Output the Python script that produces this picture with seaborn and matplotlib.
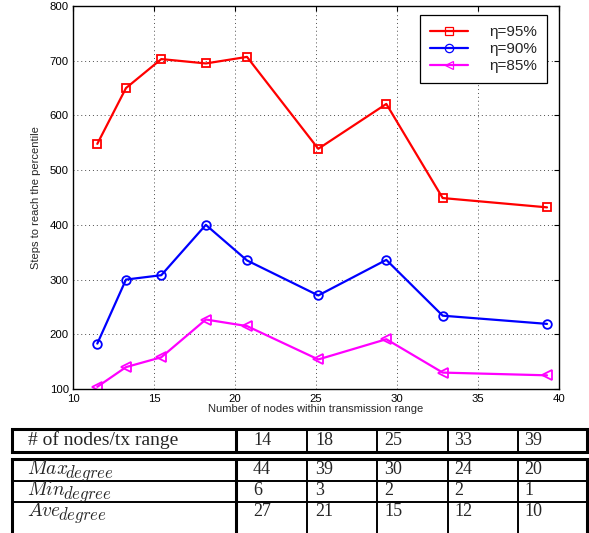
import matplotlib
matplotlib.use("Agg")
import matplotlib.pyplot as plt
import seaborn as sns
import pandas as pd

# Average number of nodes within transmission range (x positions)
nodes_in_range = [11.5, 13.27, 15.45, 18.2, 20.74, 25.14, 29.34, 32.82, 39.26]

# Steps needed to reach each percentile
steps_95 = [548, 650, 703, 695, 707, 539, 621, 449, 432]
steps_90 = [183, 300, 308, 400, 335, 271, 336, 234, 219]
steps_85 = [104, 140, 158, 227, 215, 154, 191, 130, 125]

series_labels = ["η=95%", "η=90%", "η=85%"]
series_colors = ["#ff0000", "#0000ff", "#ff00ff"]
series_markers = ["s", "o", "<"]
series_msizes = [5.2, 6.2, 7.2]

# Degree statistics table
table_header = "# of nodes/tx range"
table_nodes = [14, 18, 25, 33, 39]
row_names = ["Max", "Min", "Ave"]
row_subscript = "degree"
max_degree = [44, 39, 30, 24, 20]
min_degree = [6, 3, 2, 2, 1]
ave_degree = [27, 21, 15, 12, 10]

sns.set_style("white")
plt.rcParams["font.family"] = ["Liberation Sans", "DejaVu Sans"]
plt.rcParams["mathtext.fontset"] = "cm"

W, H = 589, 533
fig = plt.figure(figsize=(W / 100, H / 100), dpi=100)
ax = fig.add_axes([73 / W, 1 - 389 / H, 486 / W, 383 / H])

df = pd.DataFrame({
    "nodes": nodes_in_range * 3,
    "steps": steps_95 + steps_90 + steps_85,
    "eta": [series_labels[0]] * 9 + [series_labels[1]] * 9 + [series_labels[2]] * 9,
})

for lab, col, mk, ms in zip(series_labels, series_colors, series_markers, series_msizes):
    sub = df[df["eta"] == lab]
    sns.lineplot(data=sub, x="nodes", y="steps", ax=ax, color=col, marker=mk,
                 markersize=ms, markerfacecolor="none", markeredgecolor=col,
                 markeredgewidth=1.3, linewidth=1.6, label=lab, sort=False)

ax.set_xlim(10, 40)
ax.set_ylim(100, 800)
ax.set_xticks(range(10, 41, 5))
ax.set_yticks(range(100, 801, 100))
ax.grid(True, linestyle=(0, (1, 3)), color="0.3", linewidth=0.7)
ax.tick_params(direction="in", top=True, right=True, length=3.5, width=0.8,
               labelsize=8.2, colors="black")
ax.tick_params(axis="y", pad=3)
ax.tick_params(axis="x", pad=3.5)
for s in ax.spines.values():
    s.set_color("black")
    s.set_linewidth(1.0)
ax.set_xlabel("Number of nodes within transmission range", fontsize=8, labelpad=0)
ax.set_ylabel("Steps to reach the percentile", fontsize=8, labelpad=6)

leg = ax.legend(loc="upper right", bbox_to_anchor=(0.975, 0.976), fontsize=11,
                frameon=True, fancybox=False, edgecolor="black", framealpha=1,
                handlelength=2.5, handletextpad=1.35, labelspacing=0.2,
                borderpad=0.65, borderaxespad=0.0)
leg.get_frame().set_linewidth(0.9)
for h in leg.legend_handles:
    h.set_markersize(6)
    h.set_markeredgewidth(0.9)

# Table drawn in pixel coordinates below the chart
tab = fig.add_axes([0, 0, 1, 1], zorder=5)
tab.set_xlim(0, W)
tab.set_ylim(H, 0)
tab.axis("off")

col_edges = [12, 236, 307, 377, 448, 518, 587]
num_pad = [17, 8, 7, 6, 6]
thick, thin = 2.2, 1.4

def hline(y, x0, x1, lw):
    tab.plot([x0, x1], [y, y], color="black", lw=lw, solid_capstyle="projecting")

def vline(x, y0, y1, lw):
    tab.plot([x, x], [y0, y1], color="black", lw=lw, solid_capstyle="butt")

# header box
h_top, h_bot = 429, 452
hline(h_top, col_edges[0], col_edges[-1], thick)
hline(h_bot, col_edges[0], col_edges[-1], thick)
for i, x in enumerate(col_edges):
    vline(x, h_top, h_bot, thick if i in (0, 1, len(col_edges) - 1) else thin)

# body box
b_top, b_rows, b_bot = 459, [481, 502], 540
hline(b_top, col_edges[0], col_edges[-1], thick)
for y in b_rows:
    hline(y, col_edges[0], col_edges[-1], thin)
for i, x in enumerate(col_edges):
    vline(x, b_top, b_bot, thick if i in (0, 1, len(col_edges) - 1) else thin)

serif = ["Liberation Serif", "DejaVu Serif"]
num_fs = 13
tab.text(28, 445, table_header, family=serif, fontsize=14, ha="left", va="baseline")
for j, v in enumerate(table_nodes):
    tab.text(col_edges[j + 1] + num_pad[j], 445, str(v), family=serif,
             fontsize=num_fs, ha="left", va="baseline")

fig.canvas.draw()
renderer = fig.canvas.get_renderer()
inv = tab.transData.inverted()

row_baselines = [474, 495, 516]
for name, vals, yb in zip(row_names, [max_degree, min_degree, ave_degree], row_baselines):
    main = tab.text(27, yb, "$" + name + "$", fontsize=14, ha="left", va="baseline")
    bb = main.get_window_extent(renderer)
    x_end = inv.transform((bb.x1, bb.y0))[0]
    tab.text(x_end - 3, yb + 4, "$" + row_subscript + "$", fontsize=12,
             ha="left", va="baseline")
    for j, v in enumerate(vals):
        tab.text(col_edges[j + 1] + num_pad[j], yb, str(v), family=serif,
                 fontsize=num_fs, ha="left", va="baseline")

fig.savefig("out.png", dpi=100)
